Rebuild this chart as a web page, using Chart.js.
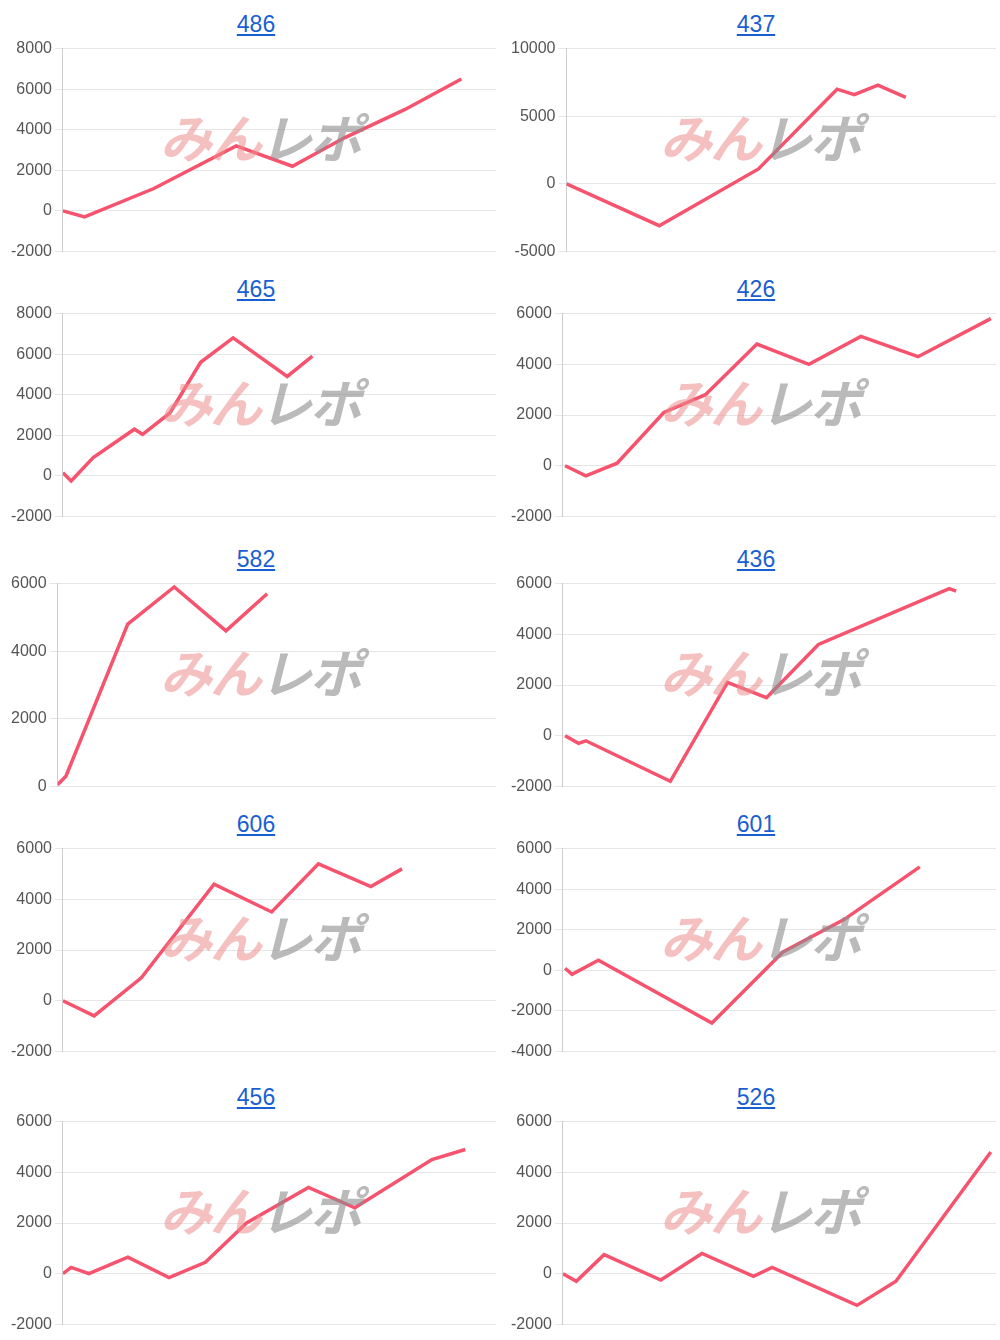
<!DOCTYPE html>
<html>
<head>
<meta charset="utf-8">
<script src="https://cdn.jsdelivr.net/npm/chart.js@4"></script>
<style>
  body { margin: 0; width: 1000px; height: 1340px; background: #fff; font-family: "Liberation Sans", Arial, sans-serif; position: relative; overflow: hidden; }
  .cell { position: absolute; width: 500px; }
  .title { text-align: center; height: 36px; line-height: 48px; font-size: 23px; padding-left: 12px; }
  .title a { color: #1a5fd0; text-decoration: underline; }
  .box { position: relative; height: 228px; }
  .wm { position: absolute; left: 160px; top: 62px; font-size: 52px; font-weight: bold; font-style: italic; letter-spacing: -2px; pointer-events: none; font-family: "Noto Sans CJK JP", sans-serif; }
  .wm .a { color: rgba(235, 140, 140, 0.55); }
  .wm .b { color: rgba(140, 140, 140, 0.6); }
</style>
</head>
<body>
<script>
const titles = ["486", "437", "465", "426", "582", "436", "606", "601", "456", "526"];

const c486x = [0, 5, 21, 40, 53, 65, 79, 92];
const c486y = [0, -300, 1100, 3200, 2200, 3600, 5000, 6500];
const c437x = [0, 21.6, 44.7, 63, 67, 72.5, 79];
const c437y = [0, -3100, 1100, 7000, 6600, 7300, 6400];
const c465x = [0, 1.9, 7, 16.5, 18.4, 24.7, 31.8, 39.3, 51.8, 57.6];
const c465y = [150, -250, 900, 2300, 2050, 3100, 5600, 6800, 4900, 5900];
const c426x = [0.5, 5.3, 12.5, 23.3, 32.9, 44.8, 56.8, 68.8, 82, 98.8];
const c426y = [0, -400, 100, 2100, 2800, 4800, 4000, 5100, 4300, 5800];
const c582x = [0, 1.9, 16, 26.6, 38.4, 47.8];
const c582y = [50, 300, 4800, 5900, 4600, 5700];
const c436x = [0.5, 3.6, 5.3, 24.8, 38, 47, 59, 89.2, 90.8];
const c436y = [0, -300, -200, -1800, 2100, 1500, 3600, 5800, 5700];
const c606x = [0, 7.2, 18.1, 34.9, 48.2, 59, 71.1, 78.3];
const c606y = [0, -600, 900, 4600, 3500, 5400, 4500, 5200];
const c601x = [0.5, 2.1, 8.2, 34.4, 50.8, 64.9, 82.4];
const c601y = [100, -200, 500, -2600, 900, 2500, 5100];
const c456x = [0, 1.9, 6, 15, 24.5, 32.9, 42.4, 56.7, 67.4, 85.2, 92.9];
const c456y = [0, 250, 0, 650, -150, 450, 2000, 3400, 2600, 4500, 4900];
const c526x = [0, 3.1, 9.5, 22.6, 32.1, 44, 48.3, 67.9, 76.9, 98.8];
const c526y = [0, -300, 750, -250, 800, -100, 250, -1250, -300, 4800];

const seriesX = [c486x, c437x, c465x, c426x, c582x, c436x, c606x, c601x, c456x, c526x];
const seriesY = [c486y, c437y, c465y, c426y, c582y, c436y, c606y, c601y, c456y, c526y];
const yMin = [-2000, -5000, -2000, -2000, 0, -2000, -2000, -4000, -2000, -2000];
const yMax = [8000, 10000, 8000, 6000, 6000, 6000, 6000, 6000, 6000, 6000];
const yStep = [2000, 5000, 2000, 2000, 2000, 2000, 2000, 2000, 2000, 2000];

const rowTops = [0, 265, 535, 800, 1073];

titles.forEach((t, i) => {
  const cell = document.createElement("div");
  cell.className = "cell";
  cell.style.left = (i % 2 ? 500 : 0) + "px";
  cell.style.top = rowTops[Math.floor(i / 2)] + "px";
  cell.innerHTML = '<div class="title"><a href="#">' + t + '</a></div>' +
    '<div class="box"><canvas></canvas><div class="wm"><span class="a">みん</span><span class="b">レポ</span></div></div>';
  document.body.appendChild(cell);

  const pts = seriesX[i].map((x, k) => ({x: x, y: seriesY[i][k]}));
  new Chart(cell.querySelector("canvas"), {
    type: "line",
    data: { datasets: [{ data: pts, borderColor: "#f5536e", borderWidth: 3.5, pointRadius: 0, tension: 0 }] },
    options: {
      animation: false,
      maintainAspectRatio: false,
      responsive: true,
      layout: { padding: { left: 8, right: 4, top: 8 } },
      plugins: { legend: { display: false }, tooltip: { enabled: false } },
      scales: {
        x: { type: "linear", min: 0, max: 100, display: false },
        y: {
          min: yMin[i], max: yMax[i],
          ticks: { stepSize: yStep[i], color: "#555", font: { size: 16 }, callback: v => String(v) },
          grid: { color: "#e6e6e6" },
          border: { color: "#ccc" }
        }
      }
    }
  });
});
</script>
</body>
</html>
